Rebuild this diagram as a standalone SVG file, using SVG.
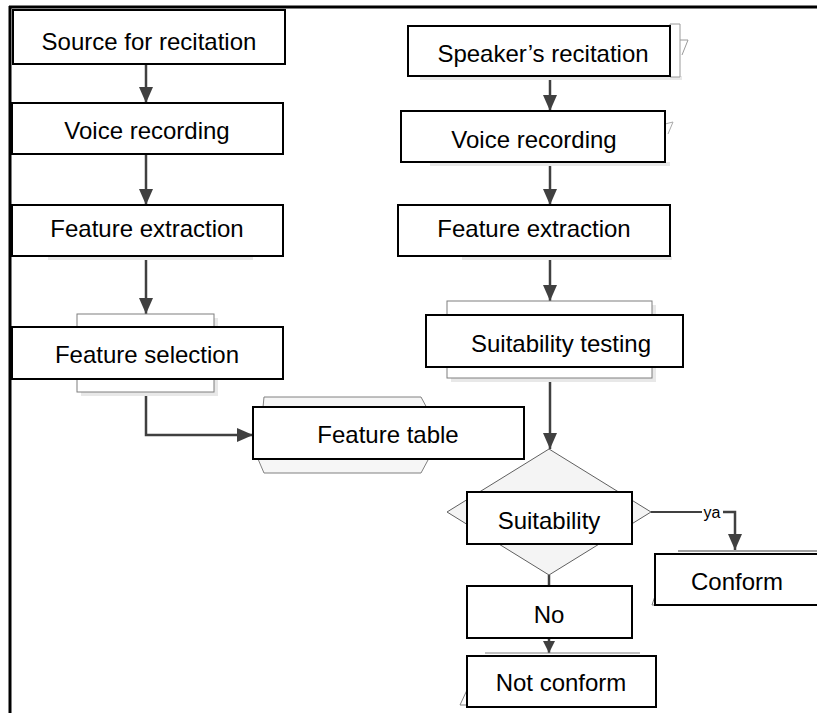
<svg xmlns="http://www.w3.org/2000/svg" width="817" height="713" viewBox="0 0 817 713">
<style>
.box{fill:#fff;stroke:#000;stroke-width:2}
.back{fill:#fff;stroke:#7f7f7f;stroke-width:1}
.shadow{fill:#e8e8e8;stroke:none}
.t{font-family:"Liberation Sans",Arial,sans-serif;font-size:24px;fill:#000;text-anchor:middle}
.c{fill:none;stroke:#404040;stroke-width:2.5}
.ct{fill:none;stroke:#404040;stroke-width:1.8}
</style>
<defs>
<marker id="a" viewBox="0 0 16 14" refX="16" refY="7" markerWidth="16" markerHeight="14" markerUnits="userSpaceOnUse" orient="auto">
<path d="M0,0 L16,7 L0,14 Z" fill="#404040"/>
</marker>
<marker id="as" viewBox="0 0 12 12" refX="12" refY="6" markerWidth="12" markerHeight="12" markerUnits="userSpaceOnUse" orient="auto">
<path d="M0,0 L12,6 L0,12 Z" fill="#404040"/>
</marker>
</defs>
<g id="frame">
<line x1="9" y1="7" x2="817" y2="7" stroke="#000" stroke-width="3"/>
<line x1="10" y1="6" x2="10" y2="713" stroke="#000" stroke-width="3"/>
</g>
<g id="connectors">
<line class="c" x1="146" y1="64" x2="146" y2="103" marker-end="url(#a)"/>
<line class="c" x1="146" y1="154" x2="146" y2="205" marker-end="url(#a)"/>
<line class="c" x1="146" y1="256" x2="146" y2="314" marker-end="url(#a)"/>
<polyline class="c" points="146,392 146,435 253,435" marker-end="url(#a)"/>
<line class="c" x1="550" y1="76" x2="550" y2="111" marker-end="url(#a)"/>
<line class="c" x1="550" y1="162" x2="550" y2="205" marker-end="url(#a)"/>
<line class="c" x1="550" y1="256" x2="550" y2="301" marker-end="url(#a)"/>
<line class="c" x1="550" y1="378" x2="550" y2="449" marker-end="url(#a)"/>
<polyline class="ct" points="651,512 702,512"/>
<polyline class="c" points="723,512 735,512 735,550" marker-end="url(#a)"/>
<text x="712" y="518" font-family="Liberation Sans,Arial,sans-serif" font-size="16" text-anchor="middle" fill="#000">ya</text>
<line class="c" x1="549" y1="575" x2="549" y2="587"/>
<line class="c" x1="549" y1="638" x2="549" y2="653" marker-end="url(#as)"/>
</g>
<g id="source">
<rect class="box" x="13" y="10" width="272" height="54"/>
<text class="t" x="149" y="50">Source for recitation</text>
</g>
<g id="voice-left">
<rect class="box" x="12" y="103" width="271" height="51"/>
<text class="t" x="147" y="139">Voice recording</text>
</g>
<g id="extraction-left">
<rect class="shadow" x="48" y="256" width="205" height="4"/>
<rect class="box" x="12" y="205" width="271" height="51"/>
<text class="t" x="147" y="237">Feature extraction</text>
</g>
<g id="selection">
<rect class="shadow" x="81" y="318" width="137" height="78"/>
<rect class="back" x="77" y="314" width="137" height="78"/>
<rect class="box" x="12" y="327" width="271" height="52"/>
<text class="t" x="147" y="363">Feature selection</text>
</g>
<g id="feature-table">
<polygon points="264,397 421,397 428,410 428,460 421,473 264,473 258,459" fill="#f6f6f6" stroke="#808080" stroke-width="1"/>
<rect class="box" x="253" y="407" width="271" height="52"/>
<text class="t" x="388" y="443">Feature table</text>
</g>
<g id="speaker">
<rect class="shadow" x="420" y="76" width="262" height="4"/>
<polygon points="670,24 680,24 680,77 670,77" fill="#fff" stroke="#9a9a9a" stroke-width="1"/>
<polyline points="680,40 688,40 682,55" fill="none" stroke="#9a9a9a" stroke-width="1"/>
<rect class="box" x="408" y="26" width="262" height="50"/>
<text class="t" x="543" y="62">Speaker’s recitation</text>
</g>
<g id="voice-right">
<rect class="shadow" x="430" y="162" width="240" height="4"/>
<polyline points="665,124 673,122 668,134" fill="none" stroke="#aaaaaa" stroke-width="1"/>
<rect class="box" x="401" y="111" width="264" height="51"/>
<text class="t" x="534" y="148">Voice recording</text>
</g>
<g id="extraction-right">
<rect class="shadow" x="462" y="256" width="210" height="4"/>
<rect class="box" x="398" y="205" width="272" height="51"/>
<text class="t" x="534" y="237">Feature extraction</text>
</g>
<g id="testing">
<rect class="shadow" x="451" y="305" width="205" height="77"/>
<rect class="back" x="447" y="301" width="205" height="77"/>
<rect class="box" x="426" y="315" width="257" height="52"/>
<text class="t" x="561" y="352">Suitability testing</text>
</g>
<g id="decision">
<polygon points="549,449 651,512 549,575 447,512" fill="#f4f4f4" stroke="#606060" stroke-width="1"/>
<rect class="box" x="467" y="492" width="165" height="52"/>
<text class="t" x="549" y="529">Suitability</text>
</g>
<g id="conform">
<line x1="678" y1="551" x2="817" y2="551" stroke="#808080" stroke-width="1.5"/>
<polyline points="655,596 652,605 655,605" fill="none" stroke="#808080" stroke-width="1"/>
<rect class="box" x="655" y="554" width="170" height="51"/>
<text class="t" x="737" y="590">Conform</text>
</g>
<g id="no">
<rect class="box" x="467" y="586" width="165" height="52"/>
<text class="t" x="549" y="623">No</text>
</g>
<g id="not-conform">
<line x1="485" y1="653" x2="640" y2="653" stroke="#808080" stroke-width="1"/>
<polyline points="467,690 460,705 467,705" fill="none" stroke="#808080" stroke-width="1"/>
<rect class="box" x="467" y="656" width="189" height="51"/>
<text class="t" x="561" y="691">Not conform</text>
</g>
</svg>
